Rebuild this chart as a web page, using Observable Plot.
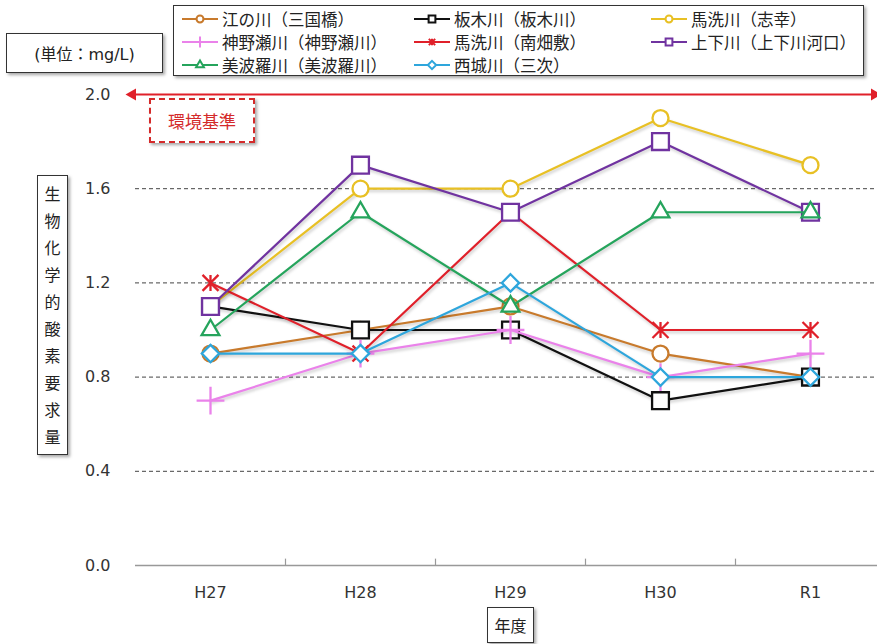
<!DOCTYPE html>
<html><head><meta charset="utf-8">
<script src="https://cdn.jsdelivr.net/npm/d3@7"></script>
<script src="https://cdn.jsdelivr.net/npm/@observablehq/plot@0.6"></script>
<style>
body{margin:0;background:#fff;font-family:"DejaVu Sans","Noto Sans CJK JP",sans-serif;}
#wrap{position:relative;width:877px;height:644px;overflow:hidden;}
#wrap svg.plot{position:absolute;left:0;top:0;}
.box{position:absolute;background:#fff;border:1px solid #333;box-shadow:2px 2px 3px rgba(0,0,0,.35);box-sizing:border-box;color:#222;font-size:16px;}
#unit{left:6px;top:33px;width:157px;height:40px;display:flex;align-items:center;justify-content:center;}
#legend{left:173px;top:5px;width:691px;height:71px;}
.li{position:absolute;display:flex;align-items:center;height:22px;font-family:"Noto Sans CJK JP",sans-serif;font-size:16.5px;white-space:nowrap;}
.li svg{margin-right:3px;}
#ylab{left:37px;top:175px;width:31px;height:280px;display:flex;flex-direction:column;align-items:center;justify-content:center;font-family:"Noto Sans CJK JP",sans-serif;line-height:27px;}
#env{left:149px;top:98px;width:106px;height:45px;border:2px dashed #d42a2a;color:#d42a2a;display:flex;align-items:center;justify-content:center;font-family:"Noto Sans CJK JP",sans-serif;font-size:17px;}
#xlab{left:487px;top:607px;width:47px;height:36px;display:flex;align-items:center;justify-content:center;font-family:"Noto Sans CJK JP",sans-serif;}
g[aria-label="line"]{filter:drop-shadow(1px 2px 1.5px rgba(0,0,0,.22));}
</style></head>
<body><div id="wrap"></div>
<script>
const years = ["H27","H28","H29","H30","R1"];
const names = ["江の川（三国橋）","板木川（板木川）","馬洗川（志幸）","神野瀬川（神野瀬川）","馬洗川（南畑敷）","上下川（上下川河口）","美波羅川（美波羅川）","西城川（三次）"];
const colors = ["#c87a2c","#111111","#e8c024","#ea82ea","#e0202a","#7033a0","#25a45c","#2ea6dc"];
const symbols = ["circle","square","circle","plus","star","square","triangle","diamond"];
const enokawa    = [0.9,1.0,1.1,0.9,0.8];
const itakigawa  = [1.1,1.0,1.0,0.7,0.8];
const basenShiko = [1.1,1.6,1.6,1.9,1.7];
const kannose    = [0.7,0.9,1.0,0.8,0.9];
const basenMinami= [1.2,0.9,1.5,1.0,1.0];
const jogegawa   = [1.1,1.7,1.5,1.8,1.5];
const mimura     = [1.0,1.5,1.1,1.5,1.5];
const saijo      = [0.9,0.9,1.2,0.8,0.8];
const series = [enokawa,itakigawa,basenShiko,kannose,basenMinami,jogegawa,mimura,saijo];
const yTicks = [0,0.4,0.8,1.2,1.6,2.0];
const gridTicks = [0.4,0.8,1.2,1.6];
const standard = 2.0;

// Excel-like star (X with vertical bar)
const starSym = {draw(ctx,size){const r=Math.sqrt(size)/2;ctx.moveTo(-r,-r);ctx.lineTo(r,r);ctx.moveTo(-r,r);ctx.lineTo(r,-r);ctx.moveTo(0,-r);ctx.lineTo(0,r);}};
const symMap = {circle:d3.symbolCircle,square:d3.symbolSquare,plus:d3.symbolPlus,star:starSym,triangle:d3.symbolTriangle2,diamond:d3.symbolDiamond2};
const radii = {circle:8,square:9.5,plus:9,star:9,triangle:8.5,diamond:7.8};
const strokeOnly = {plus:true,star:true};

const marks = [
  Plot.ruleY(gridTicks,{stroke:"#444",strokeDasharray:"4,3",strokeWidth:1}),
  Plot.ruleY([0],{stroke:"#999",strokeWidth:1.5}),
  Plot.ruleX(years.slice(1),{x:d=>d,dx:-75,y1:0,y2:0.027,stroke:"#999",strokeWidth:1.2}),
  Plot.ruleY([standard],{stroke:"#e0202a",strokeWidth:2}),
  Plot.dot([standard],{y:d=>d,frameAnchor:"left",dx:-3,symbol:"triangle",rotate:-90,r:4.5,fill:"#e0202a",stroke:"none"}),
  Plot.dot([standard],{y:d=>d,frameAnchor:"right",dx:-3,symbol:"triangle",rotate:90,r:4.5,fill:"#e0202a",stroke:"none"}),
  Plot.axisY(yTicks,{tickSize:0,tickPadding:25,tickFormat:d3.format(".1f"),fontSize:16,fill:"#333"}),
  Plot.axisX({tickSize:0,tickPadding:21,fontSize:16,fill:"#333"})
];
series.forEach((vals,i)=>{
  const rows = years.map((y,j)=>({year:y,value:vals[j]}));
  const s = symbols[i];
  marks.push(Plot.line(rows,{x:"year",y:"value",stroke:colors[i],strokeWidth:2.2}));
  marks.push(Plot.dot(rows,{x:"year",y:"value",symbol:symMap[s],r:radii[s],stroke:colors[i],strokeWidth:2.3,fill:strokeOnly[s]?"none":"#fff"}));
});

const chart = Plot.plot({
  width:877,height:644,
  marginTop:94,marginBottom:79,marginLeft:135,marginRight:0,
  style:{fontFamily:"DejaVu Sans, Verdana, sans-serif",background:"transparent",overflow:"visible"},
  x:{type:"point",domain:years,range:[135,885],padding:0.5,label:null},
  y:{domain:[0,2.0],label:null},
  marks
});
chart.classList.add("plot");
const wrap = document.getElementById("wrap");
wrap.appendChild(chart);

function box(id,html){const d=document.createElement("div");d.className="box";d.id=id;d.innerHTML=html;wrap.appendChild(d);return d;}
box("unit","(単位：mg/L)");
box("env","環境基準");
box("ylab",[..."生物化学的酸素要求量"].map(c=>`<div>${c}</div>`).join(""));
box("xlab","年度");
const leg = box("legend","");
const colX=[7,239,476], rowY=[2,25,48];
names.forEach((n,i)=>{
  const s=symbols[i];
  const path=d3.symbol(symMap[s],s==="square"?46:s==="circle"?38:s==="plus"||s==="star"?40:44)();
  const fill=strokeOnly[s]?"none":"#fff";
  const it=document.createElement("div");it.className="li";
  it.style.left=colX[i%3]+"px";it.style.top=rowY[Math.floor(i/3)]+"px";
  it.innerHTML=`<svg width="38" height="16"><line x1="1" x2="37" y1="8" y2="8" stroke="${colors[i]}" stroke-width="2.2"/><path transform="translate(19,8)" d="${path}" fill="${fill}" stroke="${colors[i]}" stroke-width="2"/></svg><span>${n}</span>`;
  leg.appendChild(it);
});
</script></body></html>
